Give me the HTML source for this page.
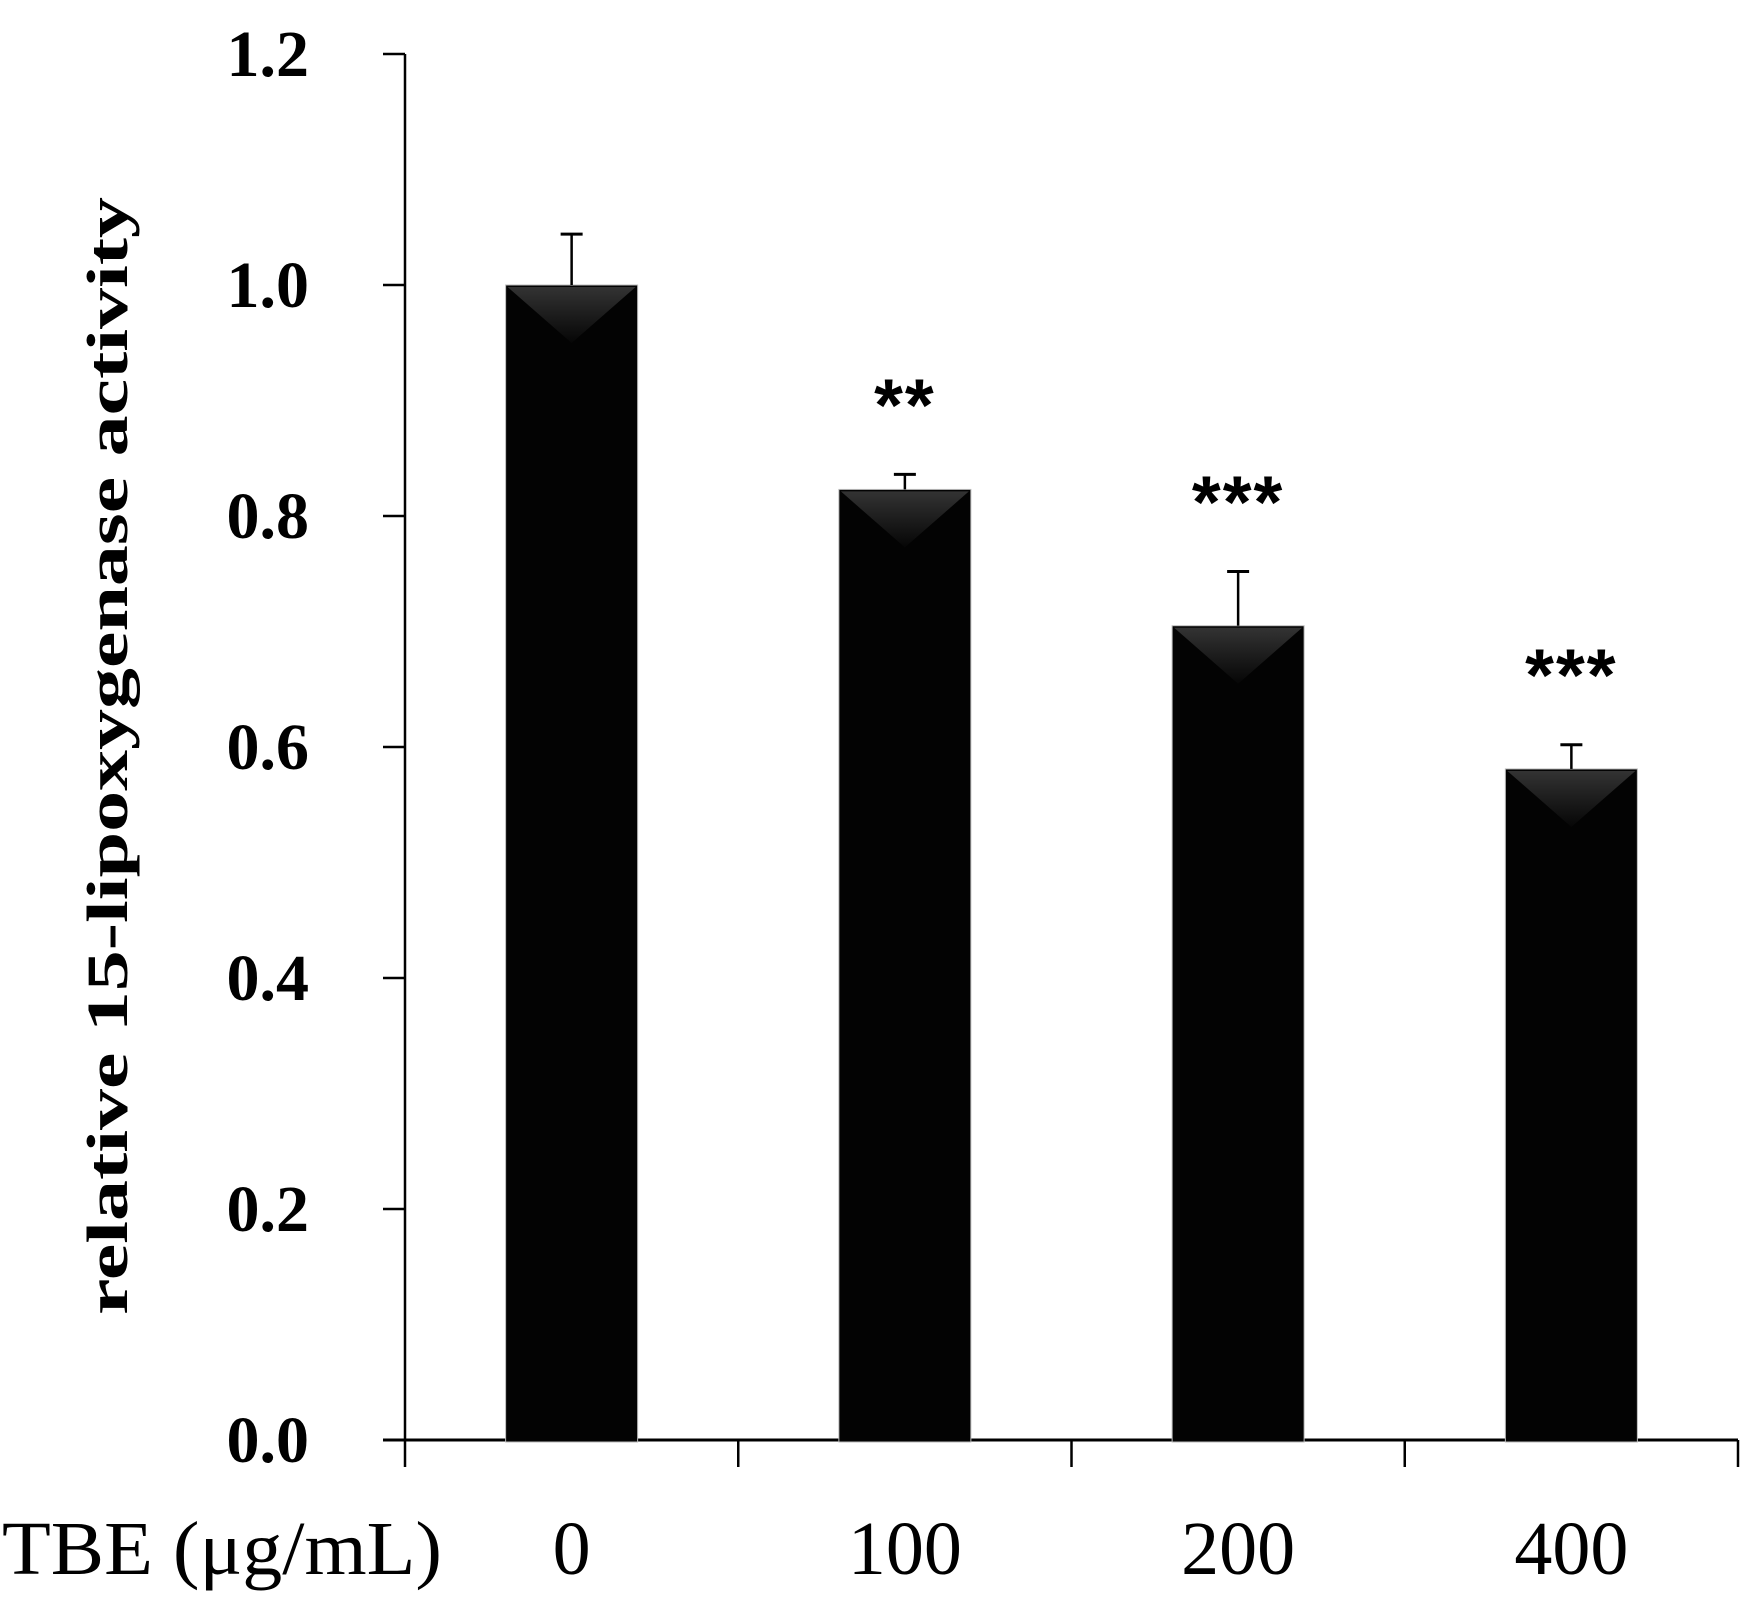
<!DOCTYPE html>
<html><head><meta charset="utf-8"><style>
html,body{margin:0;padding:0;background:#fff;}
svg{display:block;}
</style></head><body>
<svg id="chart" width="1754" height="1622" viewBox="0 0 1754 1622" xmlns="http://www.w3.org/2000/svg">
<defs>
<linearGradient id="tri" x1="0" y1="0" x2="0" y2="1">
<stop offset="0" stop-color="#333"/><stop offset="1" stop-color="#060606"/>
</linearGradient>
</defs>
<g id="yaxis"></g>
<g id="xaxis"></g>
<g id="bars"></g>
<text transform="translate(127,756) rotate(-90)" text-anchor="middle" font-family="Liberation Serif, serif" font-weight="bold" font-size="58" textLength="1118" lengthAdjust="spacingAndGlyphs">relative 15-lipoxygenase activity</text>
<text x="2" y="1574" font-family="Liberation Serif, serif" font-size="76" textLength="440" lengthAdjust="spacingAndGlyphs">TBE (μg/mL)</text>
</svg>
<script>
const categories = ["0","100","200","400"];
const values = [1.0, 0.823, 0.705, 0.581];
const errors = [0.044, 0.013, 0.047, 0.021];
const stars = ["", "**", "***", "***"];
const yTicks = [0,0.2,0.4,0.6,0.8,1.0,1.2];
const yTickLabels = ["0.0","0.2","0.4","0.6","0.8","1.0","1.2"];

const NS="http://www.w3.org/2000/svg";
const X0=405, X1=1738, Y0=1440, Y1=54, YMAX=1.2;
const y=v=>Y0-(v/YMAX)*(Y0-Y1);
const band=(X1-X0)/categories.length;
const xc=i=>X0+band*(i+0.5);
function mk(tag,attrs,parent){const e=document.createElementNS(NS,tag);for(const k in attrs)e.setAttribute(k,attrs[k]);parent.appendChild(e);return e;}
const yax=document.getElementById('yaxis'), xax=document.getElementById('xaxis'), bars=document.getElementById('bars');

let l=mk('line',{x1:X0,y1:Y1,x2:X0,y2:Y0,stroke:'#000','stroke-width':2.5},yax);


yTicks.forEach((t,i)=>{
  const tk=mk('line',{x1:X0-22,y1:y(t),x2:X0,y2:y(t),stroke:'#000','stroke-width':2.5},yax);
  
  
  const tx=mk('text',{x:309,y:y(t)+22,'text-anchor':'end','font-family':'Liberation Serif, serif','font-weight':'bold','font-size':66},yax);
  
  
  tx.textContent=yTickLabels[i];
});
l=mk('line',{x1:X0-22,y1:Y0,x2:X1,y2:Y0,stroke:'#000','stroke-width':3},xax);


for(let i=0;i<=categories.length;i++){
  const tk=mk('line',{x1:X0+band*i,y1:Y0,x2:X0+band*i,y2:Y0+27,stroke:'#000','stroke-width':2.5},xax);
  
  
}
const BW=132;
categories.forEach((c,i)=>{
  const cx=xc(i), top=y(values[i]);
  const g=mk('g',{},bars);
  
  
  const r=mk('rect',{x:cx-BW/2,y:top,width:BW,height:Y0-top+2,fill:'#030303',stroke:'#bbb','stroke-width':1},g);
  
  
  const tr=mk('polygon',{points:`${cx-BW/2+2},${top+2} ${cx+BW/2-2},${top+2} ${cx},${top+58}`,fill:'url(#tri)'},g);
  
  
  const ey=y(values[i]+errors[i]);
  const e1=mk('line',{x1:cx,y1:top,x2:cx,y2:ey,stroke:'#000','stroke-width':2.5},g);
  
  
  const e2=mk('line',{x1:cx-11,y1:ey,x2:cx+11,y2:ey,stroke:'#000','stroke-width':3},g);
  
  
  if(stars[i]){
    const s=mk('text',{x:cx,y:ey-44,'text-anchor':'middle','font-family':'Liberation Sans, sans-serif','font-weight':'bold','font-size':74,'letter-spacing':'2'},g);
    
    
    s.textContent=stars[i];
  }
  const lb=mk('text',{x:cx,y:1574,'text-anchor':'middle','font-family':'Liberation Serif, serif','font-size':76},xax);
  
  
  lb.textContent=c;
});
</script>
</body></html>
